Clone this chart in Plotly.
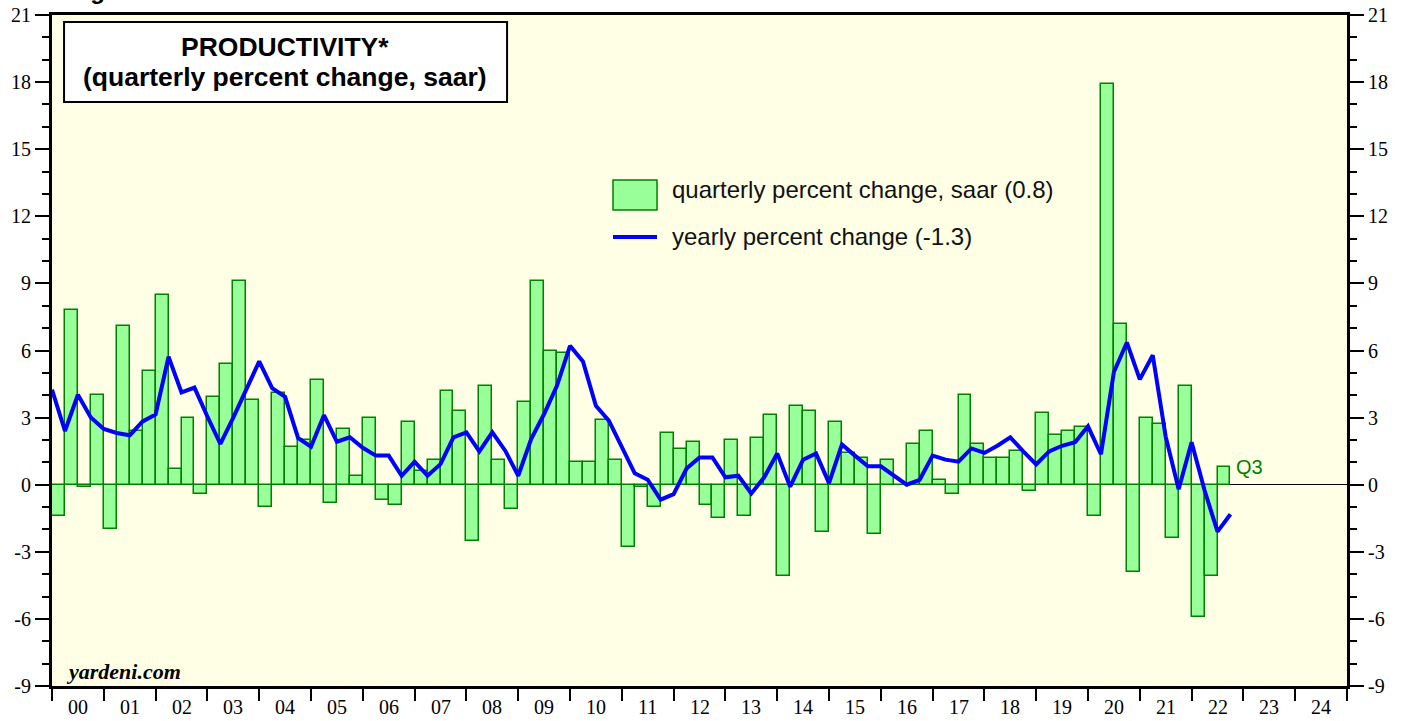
import plotly.graph_objects as go

# ---------------- data ----------------
start_year = 2000
quarterly_change = [
    -1.4, 7.8, -0.1, 4.0,    # 2000
    -2.0, 7.1, 2.4, 5.1,     # 2001
    8.5, 0.7, 3.0, -0.4,     # 2002
    3.9, 5.4, 9.1, 3.8,      # 2003
    -1.0, 4.1, 1.7, 2.0,     # 2004
    4.7, -0.8, 2.5, 0.4,     # 2005
    3.0, -0.7, -0.9, 2.8,    # 2006
    0.6, 1.1, 4.2, 3.3,      # 2007
    -2.5, 4.4, 1.1, -1.1,    # 2008
    3.7, 9.1, 6.0, 5.9,      # 2009
    1.0, 1.0, 2.9, 1.1,      # 2010
    -2.8, -0.1, -1.0, 2.3,   # 2011
    1.6, 1.9, -0.9, -1.5,    # 2012
    2.0, -1.4, 2.1, 3.1,     # 2013
    -4.1, 3.5, 3.3, -2.1,    # 2014
    2.8, 1.4, 1.2, -2.2,     # 2015
    1.1, 0.0, 1.8, 2.4,      # 2016
    0.2, -0.4, 4.0, 1.8,     # 2017
    1.2, 1.2, 1.5, -0.3,     # 2018
    3.2, 2.2, 2.4, 2.6,      # 2019
    -1.4, 17.9, 7.2, -3.9,   # 2020
    3.0, 2.7, -2.4, 4.4,     # 2021
    -5.9, -4.1, 0.8,         # 2022
]

# yearly percent change, plotted at quarter ends (first point = 1999 Q4)
yearly_change = [
    4.25, 2.40, 4.02, 3.01, 2.49, 2.31, 2.21, 2.83, 3.14, 5.72,
    4.13, 4.34, 3.05, 1.82, 3.00, 4.30, 5.51, 4.32, 3.93, 2.09,
    1.70, 3.11, 1.92, 2.12, 1.65, 1.30, 1.30, 0.40, 1.03, 0.40,
    0.92, 2.12, 2.34, 1.49, 2.34, 1.52, 0.40, 2.04, 3.16, 4.43,
    6.21, 5.51, 3.53, 2.86, 1.67, 0.51, 0.22, -0.67, -0.42, 0.72,
    1.22, 1.22, 0.33, 0.40, -0.39, 0.33, 1.40, -0.09, 1.12, 1.40,
    0.07, 1.80, 1.30, 0.82, 0.82, 0.40, 0.00, 0.22, 1.30, 1.12,
    1.03, 1.62, 1.42, 1.74, 2.12, 1.49, 0.91, 1.49, 1.74, 1.90,
    2.61, 1.36, 5.04, 6.36, 4.71, 5.79, 2.15, -0.20, 1.90, -0.25,
    -2.10, -1.32,
]

year_labels = ["00", "01", "02", "03", "04", "05", "06", "07", "08", "09",
               "10", "11", "12", "13", "14", "15", "16", "17", "18", "19",
               "20", "21", "22", "23", "24"]
y_ticks = [-9, -6, -3, 0, 3, 6, 9, 12, 15, 18, 21]
y_tick_text = ["-9", "-6", "-3", "0", "3", "6", "9", "12", "15", "18", "21"]

title_lines = ["PRODUCTIVITY*", "(quarterly percent change, saar)"]
legend_bar_text = "quarterly percent change, saar (0.8)"
legend_line_text = "yearly percent change (-1.3)"
last_quarter_label = "Q3"
source_text = "yardeni.com"

# ---------------- positions ----------------
bar_x = [start_year + 0.125 + 0.25 * i for i in range(len(quarterly_change))]
line_x = [start_year + 0.25 * i for i in range(len(yearly_change))]
x_end = start_year + len(year_labels)

SANS = "Liberation Sans, Arial, sans-serif"
SERIF = "Liberation Serif, Times New Roman, serif"
BAR_FILL = "#99FF99"
BAR_EDGE = "#008000"
LINE_BLUE = "#0000FF"
BG = "#FFFFE6"

fig = go.Figure()
fig.add_trace(go.Bar(
    x=bar_x, y=quarterly_change, width=0.25,
    marker=dict(color=BAR_FILL, line=dict(color=BAR_EDGE, width=1.5)),
    showlegend=False, hoverinfo="skip", yaxis="y",
))
fig.add_trace(go.Scatter(
    x=line_x, y=yearly_change, mode="lines",
    line=dict(color=LINE_BLUE, width=4),
    showlegend=False, hoverinfo="skip", yaxis="y2",
))

axis_common = dict(
    range=[-9, 21], tickvals=y_ticks, ticktext=y_tick_text,
    ticks="outside", ticklen=14,
    tickwidth=1.5, tickcolor="black", showgrid=False, automargin=False,
    showline=True, linecolor="black", linewidth=3,
    tickfont=dict(family=SERIF, size=20, color="black"),
    minor=dict(dtick=1, ticks="outside", ticklen=7, tickwidth=1.5,
               tickcolor="black", showgrid=False),
)

fig.update_layout(
    width=1408, height=721,
    margin=dict(l=52, r=61, t=15, b=35, autoexpand=False),
    paper_bgcolor="white", plot_bgcolor=BG,
    barmode="overlay", bargap=0,
    xaxis=dict(
        range=[start_year, x_end], tickvals=list(range(start_year, x_end + 1)),
        showticklabels=False, ticks="outside", ticklen=12, tickwidth=2,
        tickcolor="black", showgrid=False, zeroline=False, automargin=False,
        showline=True, linecolor="black", linewidth=3, mirror=True,
    ),
    yaxis=dict(side="left", zeroline=True, zerolinecolor="black",
               zerolinewidth=1, **axis_common),
    yaxis2=dict(side="right", overlaying="y", zeroline=False, **axis_common),
)

annotations = []
# year labels centred within each year
for i, lab in enumerate(year_labels):
    annotations.append(dict(
        x=start_year + i + 0.5, y=-0.031, xref="x", yref="paper",
        text=lab, showarrow=False, xanchor="center", yanchor="middle",
        font=dict(family=SERIF, size=20, color="black"),
    ))

# title box
fig.add_shape(type="rect", xref="paper", yref="paper",
              x0=0.0093, x1=0.3514, y0=0.8703, y1=0.9896,
              fillcolor="white", line=dict(color="black", width=2))
annotations.append(dict(
    x=0.18, y=0.952, xref="paper", yref="paper", showarrow=False,
    text="<b>" + title_lines[0] + "</b>", xanchor="center", yanchor="middle",
    font=dict(family=SANS, size=26.5, color="black")))
annotations.append(dict(
    x=0.18, y=0.9076, xref="paper", yref="paper", showarrow=False,
    text="<b>" + title_lines[1] + "</b>", xanchor="center", yanchor="middle",
    font=dict(family=SANS, size=26.5, color="black")))

# cropped figure header above the plot (only its lower edge is visible)
annotations.append(dict(
    x=0.0116, y=1.0134, xref="paper", yref="paper", showarrow=False,
    text="<b>Figure 1.</b>", xanchor="left", yanchor="bottom",
    font=dict(family=SANS, size=24, color="black")))

# legend
fig.add_shape(type="rect", xref="paper", yref="paper",
              x0=0.4332, x1=0.4672, y0=0.7094, y1=0.7541,
              fillcolor=BAR_FILL, line=dict(color=BAR_EDGE, width=1.5))
fig.add_shape(type="line", xref="paper", yref="paper",
              x0=0.4332, x1=0.4672, y0=0.6692, y1=0.6692,
              line=dict(color=LINE_BLUE, width=4))
annotations.append(dict(
    x=0.4772, y=0.7392, xref="paper", yref="paper", showarrow=False,
    text=legend_bar_text, xanchor="left", yanchor="middle",
    font=dict(family=SANS, size=24, color="#111111")))
annotations.append(dict(
    x=0.4772, y=0.6692, xref="paper", yref="paper", showarrow=False,
    text=legend_line_text, xanchor="left", yanchor="middle",
    font=dict(family=SANS, size=24, color="#111111")))

# last quarter label
annotations.append(dict(
    x=bar_x[-1] + 0.2, y=quarterly_change[-1], xref="x", yref="y",
    text=last_quarter_label, showarrow=False, xanchor="left", yanchor="middle",
    font=dict(family=SANS, size=20, color=BAR_EDGE)))

# source
annotations.append(dict(
    x=0.009, y=0.021, xref="paper", yref="paper", showarrow=False,
    text="<b><i>" + source_text + "</i></b>", xanchor="left", yanchor="middle",
    font=dict(family=SERIF, size=22, color="black")))

fig.update_layout(annotations=annotations)
fig.write_html(
    "out.html",
    config={"displayModeBar": False},
    post_script="document.body.style.margin='0';document.body.style.overflow='hidden';",
)
